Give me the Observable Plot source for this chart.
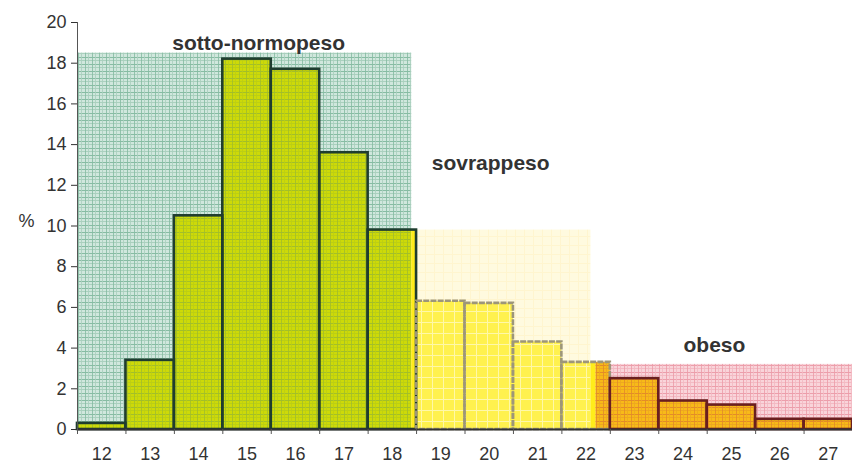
<!DOCTYPE html>
<html>
<head>
<meta charset="utf-8">
<script src="https://cdn.jsdelivr.net/npm/d3@7"></script>
<script src="https://cdn.jsdelivr.net/npm/@observablehq/plot@0.6"></script>
<style>
  html, body { margin: 0; padding: 0; background: #fff; }
  #chart { width: 852px; height: 464px; }
</style>
</head>
<body>
<div id="chart"></div>
<script>
// ---- data ----
const categories = [12, 13, 14, 15, 16, 17, 18, 19, 20, 21, 22, 23, 24, 25, 26, 27];
const values = [0.3, 3.4, 10.5, 18.2, 17.7, 13.6, 9.8, 6.3, 6.2, 4.3, 3.3, 2.5, 1.4, 1.2, 0.5, 0.5];
const groups = ["sotto", "sotto", "sotto", "sotto", "sotto", "sotto", "sotto",
                "sovra", "sovra", "sovra", "sovra",
                "obeso", "obeso", "obeso", "obeso", "obeso"];
const regionKeys = ["sotto", "sovra", "obeso"];
const regionNames = ["sotto-normopeso", "sovrappeso", "obeso"];
const regionX1 = [11.5, 18.5, 22.2];
const regionX2 = [18.4, 22.1, 27.5];
const regionTop = [18.5, 9.8, 3.2];
const labelX = [15.24, 20.03, 24.65];
const labelY = [19.0, 13.07, 4.13];
const yTicks = [0, 2, 4, 6, 8, 10, 12, 14, 16, 18, 20];

// ---- tables ----
const bars = categories.map((c, i) => ({x1: c - 0.5, x2: c + 0.5, y: values[i], group: groups[i]}));
const regions = regionKeys.map((k, i) => ({key: k, name: regionNames[i], x1: regionX1[i], x2: regionX2[i], top: regionTop[i], lx: labelX[i], ly: labelY[i]}));
const boundaries = categories.map(c => c - 0.5).concat([categories[categories.length - 1] + 0.5]);

// split each bar into the pieces that fall inside each background region (or outside all of them)
const segments = [];
bars.forEach(b => {
  const cuts = [b.x1, b.x2];
  regions.forEach(r => { [r.x1, r.x2].forEach(v => { if (v > b.x1 && v < b.x2) cuts.push(v); }); });
  cuts.sort((a, c) => a - c);
  for (let j = 0; j < cuts.length - 1; j++) {
    const a = cuts[j], c = cuts[j + 1], mid = (a + c) / 2;
    const r = regions.find(r => mid >= r.x1 && mid <= r.x2);
    segments.push({x1: a, x2: c, y: b.y, key: r ? r.key : "plain"});
  }
});

const strokeFor = {sotto: "#1f3d2f", sovra: "#9d9679", obeso: "#6a1f1f"};
const dashFor = {sotto: null, sovra: "6,1.2", obeso: null};
const font = "'Liberation Sans', Arial, Helvetica, sans-serif";

const marks = [];
regions.forEach(r => {
  marks.push(Plot.rect([r], {x1: "x1", x2: "x2", y1: 0, y2: "top", fill: `url(#bg-${r.key})`}));
});
["sotto", "sovra", "obeso", "plain"].forEach(k => {
  marks.push(Plot.rect(segments.filter(s => s.key === k), {
    x1: "x1", x2: "x2", y1: 0, y2: "y", fill: `url(#bar-${k})`
  }));
});
regionKeys.forEach(k => {
  marks.push(Plot.rect(bars.filter(b => b.group === k), {
    x1: "x1", x2: "x2", y1: 0, y2: "y", fill: "none",
    stroke: strokeFor[k], strokeWidth: 2.6, strokeDasharray: dashFor[k] || undefined
  }));
});
marks.push(Plot.ruleY([0], {stroke: "#333", strokeWidth: 2}));
marks.push(Plot.ruleX([categories[0] - 0.5], {y1: 0, y2: 20, stroke: "#555", strokeWidth: 1}));
marks.push(Plot.axisY({ticks: yTicks, tickSize: 6, tickPadding: 5, fontSize: 18, color: "#333", label: null}));
marks.push(Plot.axisX({ticks: boundaries, tickSize: 5, tickFormat: () => "", color: "#555", label: null}));
marks.push(Plot.axisX({ticks: categories, tickSize: 0, tickPadding: 18, fontSize: 18, color: "#333", label: null, tickFormat: d => String(d)}));
marks.push(Plot.text(regions, {x: "lx", y: "ly", text: "name", fontWeight: "bold", fontSize: 21, fill: "#333"}));
marks.push(Plot.text(["%"], {frameAnchor: "left", dx: -59, dy: -5, fontSize: 18, fill: "#333"}));

const svg = Plot.plot({
  width: 852,
  height: 464,
  marginLeft: 77,
  marginRight: 0,
  marginTop: 22,
  marginBottom: 35,
  style: {fontFamily: font, fontSize: "18px", background: "#fff", color: "#333"},
  x: {domain: [11.5, 27.5], axis: null},
  y: {domain: [0, 20], axis: null},
  marks
});

function plaid(id, base, line1, line2, size) {
  const s = size || 7;
  return `<pattern id="${id}" patternUnits="userSpaceOnUse" width="${s}" height="${s}">
    <rect width="${s}" height="${s}" fill="${base}"/>
    <rect x="0" y="1" width="${s}" height="1" fill="${line1}"/>
    <rect x="0" y="4" width="${s}" height="1" fill="${line2}"/>
    <rect x="1" y="0" width="1" height="${s}" fill="${line1}" opacity="0.85"/>
    <rect x="4" y="0" width="1" height="${s}" fill="${line2}" opacity="0.85"/>
  </pattern>`;
}
const defs = `<defs>
  ${plaid("bg-sotto", "#d0e7dd", "#87bca3", "#aad0be")}
  ${plaid("bg-obeso", "#f9d4da", "#ec9eab", "#f3bac3")}
  <pattern id="bg-sovra" patternUnits="userSpaceOnUse" width="9" height="9">
    <rect width="9" height="9" fill="#fffadf"/>
    <rect x="0" y="2" width="9" height="1" fill="#fff5cf"/>
    <rect x="2" y="0" width="1" height="9" fill="#fff5cf"/>
  </pattern>
  ${plaid("bar-sotto", "#cdda08", "#a2bf2a", "#bccf14")}
  ${plaid("bar-obeso", "#f8ba18", "#e38c28", "#eea820")}
  <pattern id="bar-sovra" patternUnits="userSpaceOnUse" width="11" height="11">
    <rect width="11" height="11" fill="#fff14e"/>
    <rect x="0" y="3" width="11" height="1" fill="#fff8a8"/>
    <rect x="3" y="0" width="1" height="11" fill="#fff8a8"/>
  </pattern>
  <pattern id="bar-plain" patternUnits="userSpaceOnUse" width="4" height="4">
    <rect width="4" height="4" fill="#ffec1a"/>
  </pattern>
</defs>`;
svg.insertAdjacentHTML("afterbegin", defs);

document.getElementById("chart").appendChild(svg);
</script>
</body>
</html>
